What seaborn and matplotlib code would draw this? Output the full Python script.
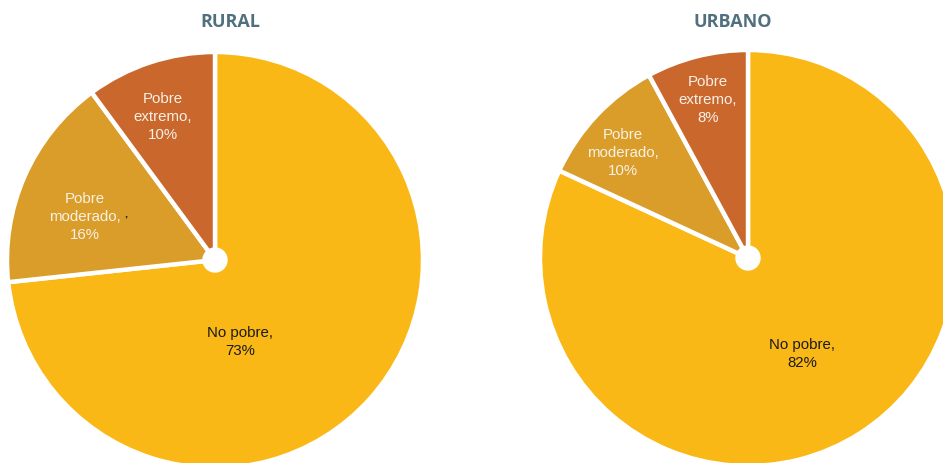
import numpy as np
import matplotlib
matplotlib.use('Agg')
import matplotlib.pyplot as plt
import seaborn as sns

sns.set_theme(style='white')
plt.rcParams['font.family'] = ['Liberation Sans', 'DejaVu Sans']

# data
categories = ['No pobre', 'Pobre moderado', 'Pobre extremo']
rural_values = [73.3, 16.6, 10.1]
urbano_values = [81.9, 10.2, 7.9]
rural_labels = ['No pobre,\n73%', 'Pobre\nmoderado,\n16%', 'Pobre\nextremo,\n10%']
urbano_labels = ['No pobre,\n82%', 'Pobre\nmoderado,\n10%', 'Pobre\nextremo,\n8%']
colors = ['#FAB817', '#DA9D2A', '#CA672D']

W, H = 943, 463
fig = plt.figure(figsize=(W / 100, H / 100), dpi=100)
ax = fig.add_axes([0, 0, 1, 1])
ax.set_xlim(0, W)
ax.set_ylim(0, H)
ax.set_aspect('equal')
ax.axis('off')

radius = 208
label_colors = ['#1a1a1a', '#F7F1E6', '#F7F1E6']


def draw_pie(cx, cy, values, labels, label_offsets, title, title_x):
    ax.pie(values, colors=colors, startangle=90, counterclock=False,
           center=(cx, cy), radius=radius, frame=True,
           wedgeprops=dict(edgecolor='white', linewidth=3.2))
    ax.add_patch(plt.Circle((cx, cy), 12, color='white', zorder=5))
    for lab, col, (dx, dy) in zip(labels, label_colors, label_offsets):
        ax.text(cx + dx, cy - dy, lab, ha='center', va='center', color=col,
                fontsize=10.8, linespacing=1.35)
    ax.text(title_x, H - 22, title, ha='center', va='center', fontsize=13,
            fontweight='bold', color='#50707F', family=['Open Sans', 'DejaVu Sans'])


draw_pie(215, H - 260, rural_values, rural_labels,
         [(25, 82), (-130, -43), (-52, -143)], 'RURAL', 230)
draw_pie(748, H - 258, urbano_values, urbano_labels,
         [(54, 96), (-125, -105), (-40, -158)], 'URBANO', 733)

# stray mark next to the moderado label
ax.text(126, H - 214, ',', ha='center', va='center', fontsize=8, color='#222222', fontweight='bold')

ax.set_xlim(0, W)
ax.set_ylim(0, H)
ax.axis('off')
fig.savefig('out.png', dpi=100)
